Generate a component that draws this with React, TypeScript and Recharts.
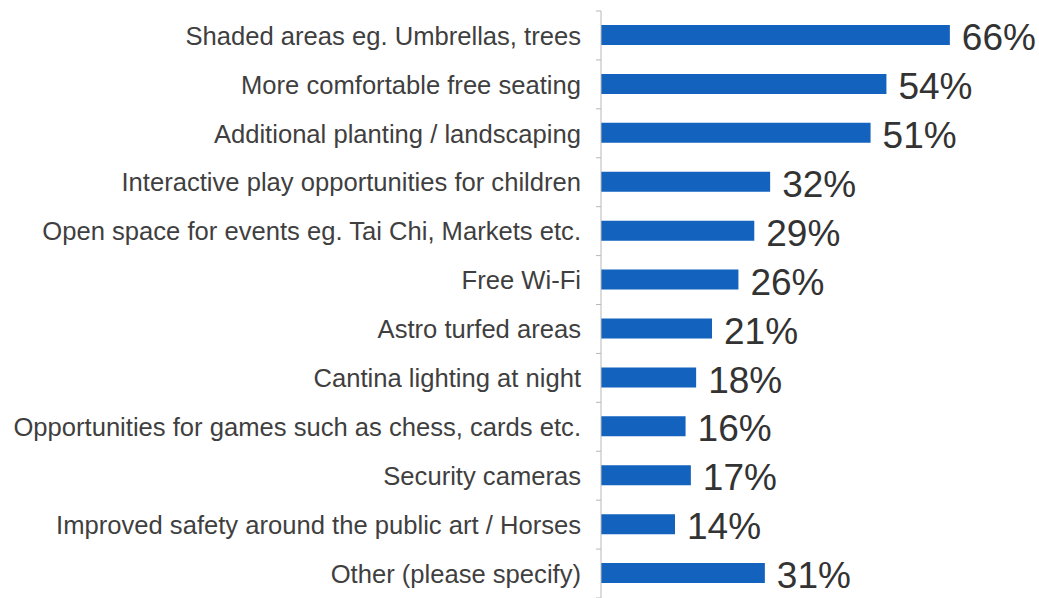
import { BarChart, Bar, XAxis, YAxis, LabelList } from 'recharts'

const CATEGORIES = [
  'Shaded areas eg. Umbrellas, trees',
  'More comfortable free seating',
  'Additional planting / landscaping',
  'Interactive play opportunities for children',
  'Open space for events eg. Tai Chi, Markets etc.',
  'Free Wi-Fi',
  'Astro turfed areas',
  'Cantina lighting at night',
  'Opportunities for games such as chess, cards etc.',
  'Security cameras',
  'Improved safety around the public art / Horses',
  'Other (please specify)',
]

const VALUES = [66, 54, 51, 32, 29, 26, 21, 18, 16, 17, 14, 31]

const data = CATEGORIES.map((name, i) => ({ name, value: VALUES[i] }))

const W = 1039
const H = 598
const TOP = 11
const BAND = (H - TOP) / CATEGORIES.length

function CategoryTick(props: any) {
  const { x, y, payload, index } = props
  const last = index === CATEGORIES.length - 1
  return (
    <g>
      <text
        x={x - 20}
        y={y}
        dy="0.36em"
        textAnchor="end"
        fontSize={25.6}
        fill="#3f3f3f"
      >
        {payload.value}
      </text>
      <line x1={x - 5} x2={x} y1={y - BAND / 2} y2={y - BAND / 2} stroke="#b8b8b8" />
      {last && (
        <line x1={x - 5} x2={x} y1={y + BAND / 2} y2={y + BAND / 2} stroke="#b8b8b8" />
      )}
    </g>
  )
}

export default function App() {
  return (
    <div style={{ width: W, height: H, fontFamily: 'Arial, "Liberation Sans", sans-serif' }}>
      <style>{'body{margin:0}'}</style>
      <BarChart
        width={W}
        height={H}
        data={data}
        layout="vertical"
        margin={{ top: TOP, right: 68, bottom: 0, left: 0 }}
      >
        <XAxis type="number" domain={[0, 70]} hide />
        <YAxis
          type="category"
          dataKey="name"
          width={601}
          axisLine={{ stroke: '#b8b8b8' }}
          tickLine={false}
          tickSize={0}
          tickMargin={0}
          interval={0}
          tick={<CategoryTick />}
        />
        <Bar dataKey="value" fill="#1262be" barSize={20} isAnimationActive={false}>
          <LabelList
            dataKey="value"
            position="right"
            offset={12}
            formatter={(v: any) => `${v}%`}
            style={{ fontSize: 37, fill: '#333333' }}
            dy={2}
          />
        </Bar>
      </BarChart>
    </div>
  )
}
